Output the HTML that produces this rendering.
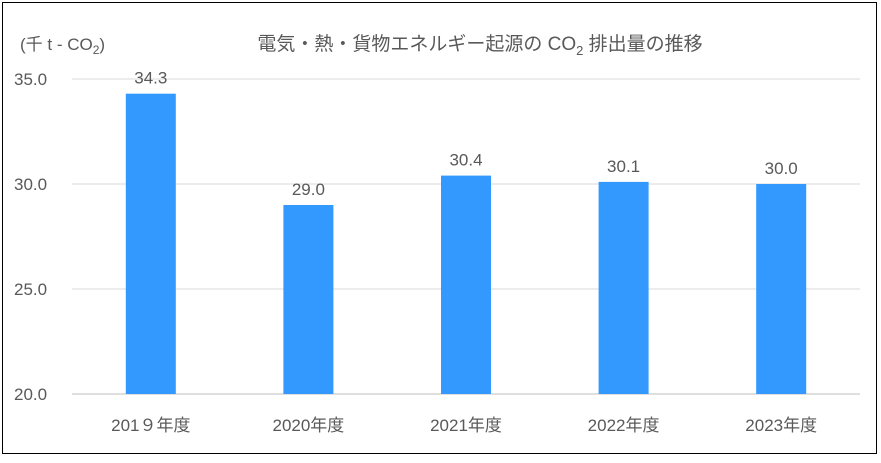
<!DOCTYPE html>
<html><head><meta charset="utf-8"><style>
body{margin:0;background:#fff;}
svg text{font-family:"Liberation Sans","Noto Sans CJK JP",sans-serif;fill:#595959;}
</style></head><body>
<svg width="881" height="458" xmlns="http://www.w3.org/2000/svg">
<rect x="2.5" y="2.5" width="874" height="451" fill="#fff" stroke="#000" stroke-width="1"/>
<text x="20" y="50" font-size="17">(千 t - CO<tspan font-size="12" dy="4">2</tspan><tspan dy="-4">)</tspan></text>
<text x="480" y="50" font-size="19" text-anchor="middle">電気・熱・貨物エネルギー起源の CO<tspan font-size="13" dy="5">2</tspan><tspan dy="-5"> 排出量の推移</tspan></text>
<g id="grid"></g><g id="bars"></g><g id="labels"></g>
<script>
const categories=["201９年度","2020年度","2021年度","2022年度","2023年度"];
const values=[34.3,29.0,30.4,30.1,30.0];
const ticks=[20,25,30,35];
const x0=72,x1=860,yMin=20,yMax=35,yTop=79,yBot=394;
const y=v=>yBot-(v-yMin)/(yMax-yMin)*(yBot-yTop);
const bw=(x1-x0)/categories.length;
const ns="http://www.w3.org/2000/svg";
const G=document.getElementById('grid'),B=document.getElementById('bars'),L=document.getElementById('labels');
ticks.forEach(t=>{
 const l=document.createElementNS(ns,'line');
 
 
 l.setAttribute('x1',x0);l.setAttribute('x2',x1);l.setAttribute('y1',y(t));l.setAttribute('y2',y(t));
 l.setAttribute('stroke',t===yMin?'#bfbfbf':'#d9d9d9');l.setAttribute('stroke-width','1');
 G.appendChild(l);
 const tx=document.createElementNS(ns,'text');
 
 
 tx.setAttribute('x',14);tx.setAttribute('y',y(t)+6);tx.setAttribute('font-size','17');
 tx.textContent=t.toFixed(1);G.appendChild(tx);
});
values.forEach((v,i)=>{
 const cx=x0+bw*(i+0.5);
 const r=document.createElementNS(ns,'rect');
 
 
 r.setAttribute('x',cx-25);r.setAttribute('width',50);r.setAttribute('y',y(v));r.setAttribute('height',yBot-y(v));
 r.setAttribute('fill','#3399ff');B.appendChild(r);
 const t=document.createElementNS(ns,'text');
 
 
 t.setAttribute('x',cx);t.setAttribute('y',y(v)-10);t.setAttribute('text-anchor','middle');t.setAttribute('font-size','17');
 t.textContent=v.toFixed(1);L.appendChild(t);
 const c=document.createElementNS(ns,'text');
 
 
 c.setAttribute('x',cx);c.setAttribute('y',431);c.setAttribute('text-anchor','middle');c.setAttribute('font-size','17');
 c.textContent=categories[i];L.appendChild(c);
});
</script>
</svg>
</body></html>
